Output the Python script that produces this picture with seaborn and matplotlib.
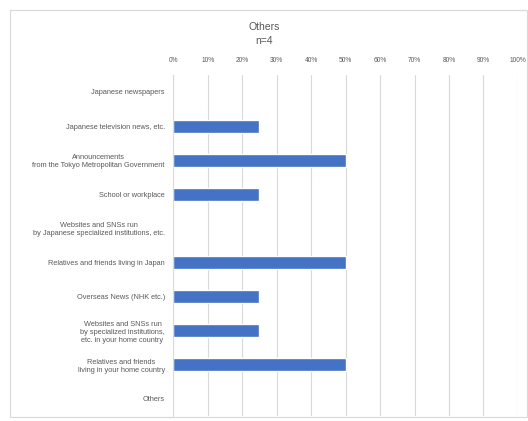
import matplotlib
matplotlib.use("Agg")
import matplotlib.pyplot as plt
import matplotlib.patches as mpatches
import seaborn as sns
import pandas as pd
from matplotlib.ticker import FuncFormatter

categories = [
    "Japanese newspapers",
    "Japanese television news, etc.",
    "Announcements\nfrom the Tokyo Metropolitan Government",
    "School or workplace",
    "Websites and SNSs run\nby Japanese specialized institutions, etc.",
    "Relatives and friends living in Japan",
    "Overseas News (NHK etc.)",
    "Websites and SNSs run\nby specialized institutions,\netc. in your home country",
    "Relatives and friends\nliving in your home country",
    "Others",
]
values = [0, 25, 50, 25, 0, 50, 25, 25, 50, 0]
x_ticks = [0, 10, 20, 30, 40, 50, 60, 70, 80, 90, 100]

df = pd.DataFrame({"category": categories, "value": values})

sns.set_style("white")
plt.rcParams["font.family"] = ["Liberation Sans", "DejaVu Sans"]

fig = plt.figure(figsize=(5.28, 4.21), dpi=100)
ax = fig.add_axes([0.328, 0.012, 0.653, 0.81])

sns.barplot(data=df, y="category", x="value", color="#4472C4",
            saturation=1, width=0.38, ax=ax, orient="h")

ax.set_xlim(0, 100)
ax.set_xticks(x_ticks)
ax.xaxis.set_major_formatter(FuncFormatter(lambda v, p: f"{int(v)}%"))
ax.xaxis.tick_top()
ax.tick_params(axis="x", labelsize=4.8, colors="#595959", length=0, pad=8)
ax.tick_params(axis="y", labelsize=5.3, colors="#595959", length=0, pad=6)
ax.grid(axis="x", color="#d9d9d9", linewidth=0.8)
ax.set_axisbelow(True)
ax.set_xlabel("")
ax.set_ylabel("")
for side in ["top", "right", "bottom"]:
    ax.spines[side].set_visible(False)
ax.spines["left"].set_color("#d9d9d9")
ax.spines["left"].set_linewidth(0.8)
for lbl in ax.get_yticklabels():
    lbl.set_horizontalalignment("right")
    lbl.set_multialignment("center")

fig.text(0.5, 0.92, "Others\nn=4", ha="center", va="center",
         fontsize=7.5, color="#595959", linespacing=1.5)

fig.patches.append(mpatches.Rectangle((0.019, 0.01), 0.98, 0.967,
                                      transform=fig.transFigure, fill=False,
                                      edgecolor="#d9d9d9", linewidth=0.8))

fig.savefig("out.png", dpi=100)
